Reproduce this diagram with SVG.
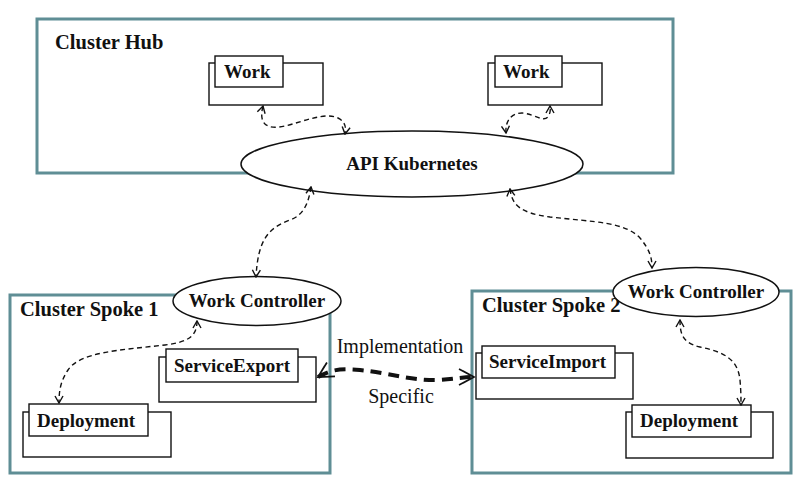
<svg xmlns="http://www.w3.org/2000/svg" width="800" height="500" viewBox="0 0 800 500">
<defs>
<style>
.cluster{fill:#fff;stroke:#5f8e95;stroke-width:3}
.box{fill:#fff;stroke:#111;stroke-width:1.4}
.ell{fill:#fff;stroke:#111;stroke-width:1.5}
.b{font-weight:bold;font-size:19px}
.cl{font-weight:bold;font-size:20.5px}
.lbl{font-size:20px}
.dash{fill:none;stroke:#111;stroke-width:1.4;stroke-dasharray:5,3.5;marker-start:url(#v);marker-end:url(#v)}
.thick{fill:none;stroke:#111;stroke-width:4;stroke-dasharray:11,7;marker-start:url(#vv);marker-end:url(#vv)}
</style>
<marker id="v" viewBox="0 0 10 10" refX="9" refY="5" markerWidth="10" markerHeight="10" markerUnits="userSpaceOnUse" orient="auto-start-reverse">
<path d="M2,1 L9,5 L2,9" fill="none" stroke="#111" stroke-width="1.4"/>
</marker>
<marker id="vv" viewBox="0 0 20 20" refX="18" refY="10" markerWidth="20" markerHeight="20" markerUnits="userSpaceOnUse" orient="auto-start-reverse">
<path d="M3,2 L18,10 L3,18 M7,4 L18,10 L7,16" fill="none" stroke="#111" stroke-width="1.7"/>
</marker>
</defs>
<rect width="800" height="500" fill="#fff"/>

<g font-family="Liberation Serif, Times New Roman, serif" fill="#111">
<g id="cluster-hub">
<rect class="cluster" x="37" y="19" width="636" height="154"/>
<text class="cl" x="55" y="49">Cluster Hub</text>
</g>
<g id="cluster-spoke-1">
<rect class="cluster" x="10" y="295" width="320" height="178"/>
<text class="cl" x="20" y="316">Cluster Spoke 1</text>
</g>
<g id="cluster-spoke-2">
<rect class="cluster" x="472" y="291" width="319" height="182"/>
<text class="cl" x="482" y="312">Cluster Spoke 2</text>
</g>

<g id="work-1">
<rect class="box" x="209" y="63" width="114" height="42"/>
<rect class="box" x="215" y="56" width="68" height="31"/>
<text class="b" x="224" y="78">Work</text>
</g>
<g id="work-2">
<rect class="box" x="488" y="63" width="114" height="42"/>
<rect class="box" x="495" y="56" width="67" height="31"/>
<text class="b" x="503" y="78">Work</text>
</g>
<g id="api-kubernetes">
<ellipse class="ell" cx="412" cy="164" rx="171" ry="33"/>
<text class="b" x="412" y="170" text-anchor="middle">API Kubernetes</text>
</g>
<g id="work-controller-1">
<ellipse class="ell" cx="257" cy="301" rx="84" ry="24.5"/>
<text class="b" x="257" y="307" text-anchor="middle">Work Controller</text>
</g>
<g id="work-controller-2">
<ellipse class="ell" cx="696" cy="292" rx="83" ry="24.5"/>
<text class="b" x="696" y="298" text-anchor="middle">Work Controller</text>
</g>
<g id="service-export">
<rect class="box" x="159" y="357" width="157" height="45"/>
<rect class="box" x="166" y="349" width="132" height="33"/>
<text class="b" x="174" y="372">ServiceExport</text>
</g>
<g id="deployment-1">
<rect class="box" x="23" y="412" width="148" height="45"/>
<rect class="box" x="29" y="404" width="119" height="32"/>
<text class="b" x="37" y="427">Deployment</text>
</g>
<g id="service-import">
<rect class="box" x="476" y="353" width="157" height="46"/>
<rect class="box" x="482" y="346" width="133" height="32"/>
<text class="b" x="489" y="368">ServiceImport</text>
</g>
<g id="deployment-2">
<rect class="box" x="626" y="412" width="147" height="46"/>
<rect class="box" x="632" y="405" width="119" height="32"/>
<text class="b" x="640" y="427">Deployment</text>
</g>

<g id="connectors">
<path class="dash" d="M263,106 C258,125 268,130 285,126 C305,121 325,112 338,118 C346,122 346,128 345,134"/>
<path class="dash" d="M506,133 C505,120 512,113 522,113 C535,114 545,124 549,115 C551,111 550,108 550,106"/>
<path class="dash" d="M311,187 C309,200 305,215 290,220 C268,228 258,240 256,277"/>
<path class="dash" d="M510,189 C512,205 520,213 550,217 C595,222 625,222 640,238 C650,250 652,258 652,268"/>
<path class="dash" d="M197,321 C197,335 190,342 165,345 C120,350 80,352 68,370 C60,382 59,392 59,403"/>
<path class="dash" d="M680,320 C680,333 682,343 700,347 C725,352 738,360 740,380 C741,392 741,398 741,405"/>
<path class="thick" d="M318,377 C330,370 340,368 360,370 C390,373 410,381 440,380 C455,379 465,377 474,377"/>
<text class="lbl" x="400" y="353" text-anchor="middle">Implementation</text>
<text class="lbl" x="401" y="403" text-anchor="middle">Specific</text>
</g>
</g>
</svg>
